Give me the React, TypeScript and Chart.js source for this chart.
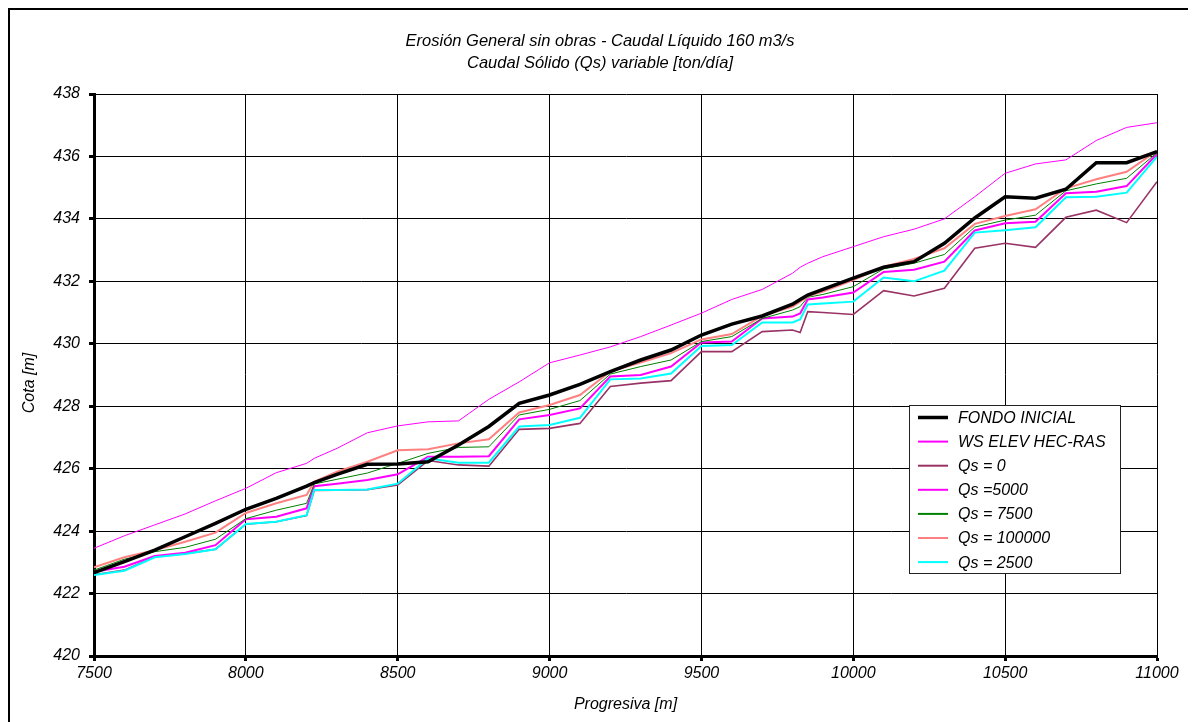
import { useEffect, useRef } from "react";
import { Chart, registerables } from "chart.js";

Chart.register(...registerables);

// Stations along the reach [m]
const progresiva = [
  7500, 7600, 7700, 7800, 7900, 8000, 8100, 8200, 8225, 8300, 8400, 8500, 8600,
  8700, 8800, 8900, 9000, 9100, 9200, 9300, 9400, 9500, 9600, 9700, 9800, 9825,
  9850, 9900, 10000, 10100, 10200, 10300, 10400, 10500, 10600, 10700, 10800,
  10900, 11000,
];

// Elevations [m]
const fondoInicial = [
  422.67, 423.02, 423.39, 423.82, 424.25, 424.7, 425.05, 425.44, 425.55, 425.82,
  426.14, 426.15, 426.22, 426.76, 427.35, 428.09, 428.36, 428.7, 429.11, 429.48,
  429.8, 430.28, 430.63, 430.89, 431.27, 431.42, 431.56, 431.74, 432.1, 432.45,
  432.63, 433.22, 434.03, 434.71, 434.66, 434.95, 435.8, 435.8, 436.15,
];

const wsElevHecRas = [
  423.45, 423.85, 424.2, 424.55, 424.97, 425.37, 425.87, 426.17, 426.33, 426.65,
  427.15, 427.37, 427.5, 427.53, 428.22, 428.78, 429.39, 429.64, 429.9, 430.23,
  430.6, 430.98, 431.42, 431.74, 432.26, 432.45, 432.58, 432.79, 433.11, 433.43,
  433.67, 434.0, 434.71, 435.46, 435.76, 435.89, 436.51, 436.93, 437.08,
];

const qs0 = [
  422.6, 422.75, 423.18, 423.28, 423.42, 424.22, 424.3, 424.5, 425.3, 425.31,
  425.33, 425.48, 426.26, 426.12, 426.08, 427.26, 427.29, 427.45, 428.63, 428.74,
  428.82, 429.75, 429.75, 430.39, 430.44, 430.36, 431.03, 431.0, 430.94, 431.7,
  431.53, 431.78, 433.06, 433.22, 433.09, 434.05, 434.28, 433.88, 435.19,
];

const qs5000 = [
  422.7, 422.86, 423.2, 423.31, 423.55, 424.38, 424.46, 424.73, 425.44, 425.52,
  425.64, 425.82, 426.38, 426.38, 426.4, 427.58, 427.72, 427.93, 428.95, 429.0,
  429.27, 430.04, 430.07, 430.81, 430.87, 430.97, 431.42, 431.48, 431.64, 432.3,
  432.37, 432.63, 433.63, 433.86, 433.91, 434.82, 434.87, 435.05, 436.08,
];

const qs7500 = [
  422.75, 423.1, 423.34, 423.48, 423.74, 424.4, 424.67, 424.89, 425.51, 425.66,
  425.86, 426.17, 426.49, 426.68, 426.7, 427.72, 427.9, 428.18, 429.03, 429.27,
  429.48, 430.07, 430.23, 430.81, 431.08, 431.19, 431.49, 431.58, 431.83, 432.4,
  432.58, 432.86, 433.74, 433.96, 434.12, 434.9, 435.12, 435.3, 436.12,
];

const qs100000 = [
  422.84, 423.16, 423.39, 423.66, 423.95, 424.58, 424.89, 425.16, 425.58, 425.9,
  426.22, 426.59, 426.62, 426.81, 426.94, 427.8, 428.04, 428.36, 429.11, 429.4,
  429.7, 430.14, 430.31, 430.89, 431.19, 431.35, 431.52, 431.67, 432.04, 432.47,
  432.72, 433.06, 433.84, 434.09, 434.31, 434.98, 435.27, 435.51, 436.18,
];

const qs2500 = [
  422.59, 422.73, 423.16, 423.27, 423.42, 424.23, 424.3, 424.51, 425.32, 425.32,
  425.33, 425.52, 426.33, 426.19, 426.19, 427.35, 427.4, 427.63, 428.86, 428.89,
  429.05, 429.93, 429.96, 430.68, 430.68, 430.78, 431.26, 431.29, 431.35, 432.12,
  432.0, 432.34, 433.56, 433.64, 433.73, 434.69, 434.71, 434.84, 435.99,
];

const seriesLabels = [
  "FONDO INICIAL",
  "WS ELEV HEC-RAS",
  "Qs = 0",
  "Qs =5000",
  "Qs = 7500",
  "Qs = 100000",
  "Qs = 2500",
];

const titleLines = [
  "Erosión General sin obras - Caudal Líquido 160 m3/s",
  "Caudal Sólido (Qs) variable [ton/día]",
];
const xAxisTitle = "Progresiva [m]";
const yAxisTitle = "Cota [m]";

const FONT = "'Liberation Sans', Arial, Helvetica, sans-serif";

const styles = [
  { color: "#000000", width: 3.5, order: 0 },
  { color: "#ff00ff", width: 1, order: 6 },
  { color: "#993366", width: 1.6, order: 5 },
  { color: "#ff00ff", width: 2, order: 4 },
  { color: "#008000", width: 1, order: 3 },
  { color: "#ff8080", width: 2, order: 2 },
  { color: "#00ffff", width: 2, order: 1 },
];

const seriesValues = [fondoInicial, wsElevHecRas, qs0, qs5000, qs7500, qs100000, qs2500];

// Titles and axis captions
const textPlugin = {
  id: "chartTexts",
  afterDraw(chart: any) {
    const { ctx, chartArea } = chart;
    ctx.save();
    ctx.fillStyle = "#000";
    ctx.font = `italic 16.5px ${FONT}`;
    ctx.textAlign = "center";
    ctx.textBaseline = "middle";
    ctx.fillText(titleLines[0], chart.width / 2, 31);
    ctx.fillText(titleLines[1], chart.width / 2, 53);
    ctx.font = `italic 16px ${FONT}`;
    ctx.fillText(xAxisTitle, (chartArea.left + chartArea.right) / 2, 695);
    ctx.translate(20, (chartArea.top + chartArea.bottom) / 2 + 8);
    ctx.rotate(-Math.PI / 2);
    ctx.fillText(yAxisTitle, 0, 0);
    ctx.restore();
  },
};

// Boxed legend inside the plot area
const legendPlugin = {
  id: "boxLegend",
  afterDraw(chart: any) {
    const { ctx } = chart;
    const left = 899;
    const top = 395;
    const w = 211;
    const h = 168;
    ctx.save();
    ctx.fillStyle = "#ffffff";
    ctx.fillRect(left, top, w, h);
    ctx.strokeStyle = "#222";
    ctx.lineWidth = 1;
    ctx.strokeRect(left + 0.5, top + 0.5, w, h);
    ctx.font = `italic 16px ${FONT}`;
    ctx.textAlign = "left";
    ctx.textBaseline = "middle";
    chart.data.datasets.forEach((ds: any, i: number) => {
      const y = top + 12.5 + i * 24.1;
      ctx.strokeStyle = ds.borderColor;
      ctx.lineWidth = Math.max(2, ds.borderWidth);
      ctx.beginPath();
      ctx.moveTo(left + 9, y);
      ctx.lineTo(left + 39, y);
      ctx.stroke();
      ctx.fillStyle = "#000";
      ctx.fillText(ds.label, left + 49, y + 1);
    });
    ctx.restore();
  },
};

export default function App() {
  const canvasRef = useRef<HTMLCanvasElement | null>(null);

  useEffect(() => {
    if (!canvasRef.current) return;
    Chart.defaults.font.family = FONT;

    const datasets = seriesLabels.map((label, i) => ({
      label,
      data: progresiva.map((x, k) => ({ x, y: seriesValues[i][k] })),
      borderColor: styles[i].color,
      backgroundColor: styles[i].color,
      borderWidth: styles[i].width,
      order: styles[i].order,
      pointRadius: 0,
      tension: 0,
      fill: false,
    }));

    const chart = new Chart(canvasRef.current, {
      type: "line",
      data: { datasets },
      options: {
        animation: false,
        responsive: true,
        maintainAspectRatio: false,
        layout: { padding: { left: 0, right: 33, top: 84, bottom: 0 } },
        plugins: {
          legend: { display: false },
          title: { display: false },
          tooltip: { enabled: false },
        },
        scales: {
          x: {
            type: "linear",
            min: 7500,
            max: 11000,
            ticks: {
              stepSize: 500,
              color: "#000",
              padding: 3,
              maxRotation: 0,
              callback: (v: any) => String(v),
              font: { size: 16, style: "italic", family: FONT },
            },
            grid: {
              color: "#000",
              lineWidth: 1,
              drawTicks: true,
              tickLength: 5,
              tickColor: "#000",
              tickWidth: 3,
            },
            border: { display: true, color: "#000", width: 3 },
            afterFit(scale: any) {
              scale.height = 66;
            },
          },
          y: {
            type: "linear",
            min: 420,
            max: 438,
            ticks: {
              stepSize: 2,
              color: "#000",
              padding: 9,
              callback: (v: any) => String(v),
              font: { size: 16, style: "italic", family: FONT },
            },
            grid: {
              color: "#000",
              lineWidth: 1,
              drawTicks: true,
              tickLength: 5,
              tickColor: "#000",
              tickWidth: 3,
            },
            border: { display: true, color: "#000", width: 3 },
            afterFit(scale: any) {
              scale.width = 84;
            },
          },
        },
      },
      plugins: [textPlugin, legendPlugin],
    });

    return () => chart.destroy();
  }, []);

  return (
    <div
      style={{
        width: 1180,
        height: 712,
        border: "2px solid #000",
        borderBottom: "none",
        background: "#fff",
        position: "relative",
      }}
    >
      <canvas ref={canvasRef} />
    </div>
  );
}
